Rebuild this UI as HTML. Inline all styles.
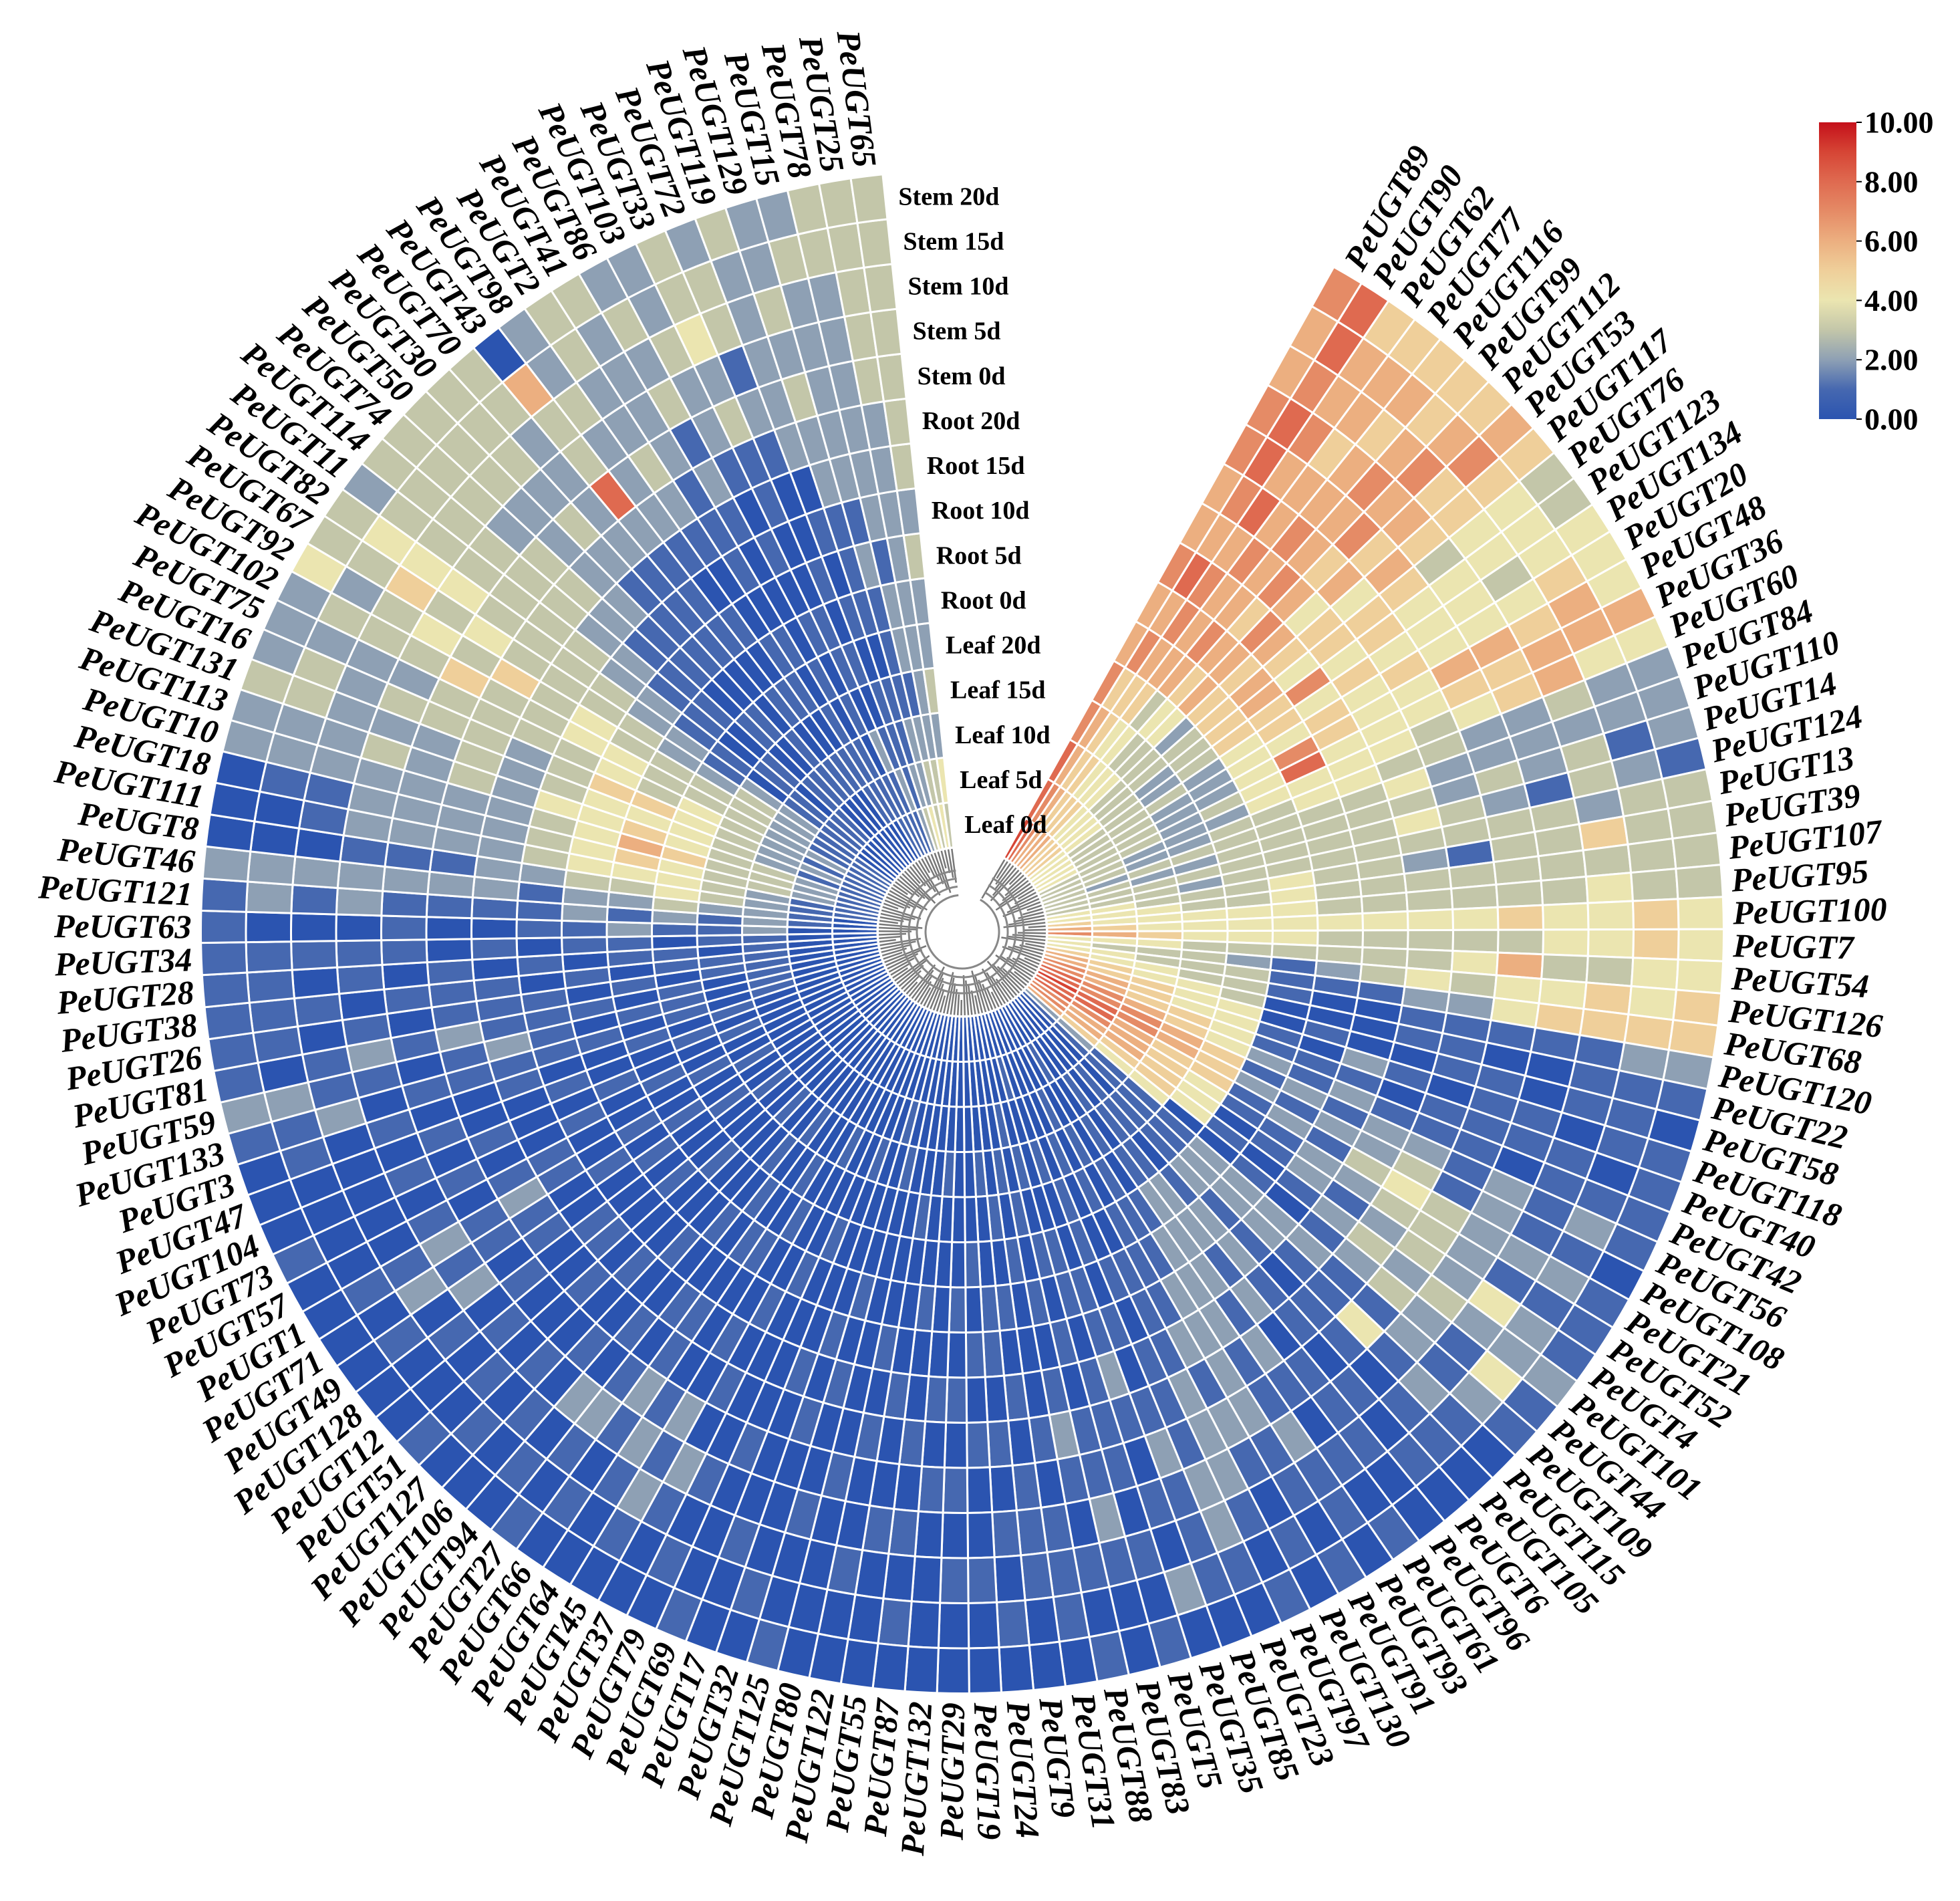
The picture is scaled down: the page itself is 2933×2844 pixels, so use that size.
<!DOCTYPE html>
<html><head><meta charset="utf-8"><style>
html,body{margin:0;padding:0;background:#fff;}
svg text{font-family:"Liberation Serif",serif;font-weight:bold;}
</style></head><body>
<svg id="chart" width="2933" height="2839" viewBox="0 0 2933 2839" xmlns="http://www.w3.org/2000/svg">
<defs><linearGradient id="lg" x1="0" y1="1" x2="0" y2="0">
<stop offset="0" stop-color="#2b54b0"/><stop offset="0.1" stop-color="#4668b0"/><stop offset="0.2" stop-color="#8ea0b4"/><stop offset="0.3" stop-color="#c3c6a9"/><stop offset="0.4" stop-color="#ebe5b0"/><stop offset="0.5" stop-color="#efcf9a"/><stop offset="0.6" stop-color="#ecaf80"/><stop offset="0.7" stop-color="#e58b66"/><stop offset="0.8" stop-color="#df6a50"/><stop offset="0.9" stop-color="#d64535"/><stop offset="1" stop-color="#c4101a"/>
</linearGradient></defs>
<g id="tree"></g>
<g id="cells"></g>
<g id="genelabels"></g>
<g id="ringlabels"></g>
<g>
<rect x="2722" y="183" width="56" height="444" fill="url(#lg)"/>
<g id="legendticks"></g>
</g>
</svg>
<script>
const genes=[89,90,62,77,116,99,112,53,117,76,123,134,20,48,36,60,84,110,14,124,13,39,107,95,100,7,54,126,68,120,22,58,118,40,42,56,108,21,52,4,101,44,109,115,105,6,96,61,93,91,130,97,23,85,35,5,83,88,31,9,24,19,29,132,87,55,122,80,125,32,17,69,79,37,45,64,66,27,94,106,127,51,12,128,49,71,1,57,73,104,47,3,133,59,81,26,38,28,34,63,121,46,8,111,18,10,113,131,16,75,102,92,67,82,11,114,74,50,30,70,43,98,2,41,86,103,33,72,119,129,15,78,25,65];
const samples=["Leaf 0d","Leaf 5d","Leaf 10d","Leaf 15d","Leaf 20d","Root 0d","Root 5d","Root 10d","Root 15d","Root 20d","Stem 0d","Stem 5d","Stem 10d","Stem 15d","Stem 20d"];
const values=["988776676677667","876657686788788","765556776867665","655456667665665","654436766766565","654345657667655","544346676576765","543325564656576","543335655465555","443235645553443",
"433235574544443","433324545444344","433224454544454","433224754466564","333234844455666","332224444345644","332233443322322","323333334222222","332233333232312","333333334321321",
"333233333333233","443334332133533","444334333333333","544444333333433","654444444454454","765444333334454","444333333463344","433321234344545","443331112245555","544331001111122",
"654430001100111","655440100110110","765441021011011","765541110111101","876542121110111","877651212212121","987652122312110","886551213432221","876541122332111","766540121232421",
"765541012323222","654400101232141","221112222112121","111112221141210","000112110110110","001101221101010","000112212011100","001012221210101","000101222112110","010011122221101",
"000101112121010","001010111222101","000100101112210","000011010121110","000100112101020","010001101110101","000101010112100","001010101210101","000101000101110","000010101011100",
"000100110101010","000001010100100","000000101010100","000100001010000","000000100101010","000010001001000","000000010100100","000100000010000","001000101001001","000000010100010",
"000100001000100","000001000010001","000000100001010","000100010102100","000001001021210","000010100012100","000000101121010","000101001012101","000010100102010","000000010010100",
"000100001001010","000001000100101","000000101001000","000100001010100","000010100102010","000001010111200","000100101212110","000010001101000","000001010010001","000100100101000",
"000010010010000","000101001001010","001010111110211","001011012101122","001010111212101","001101011101011","001110101110111","001011010101011","001101101011111","002112110010001",
"012121211112121","012232212222222","112343322111000","112344432222100","123345432222110","123356432222222","123345442323222","112344432322233","122345532333232","112343433332222",
"122333443353332","112333343534324","112322333343533","112212233334443","011011223333332","011101122333333","010101112332333","011010112222333","001010111232333","001100111222233",
"001010111283360","001010101222322","011011001232233","011101011122223","111010001213232","110101010122322","112011001132433","121010100121332","211101010222223","321101112232322",
"422111212222232","332122122222233","432222222233333","342322323333333"];
const legendTicks=["0.00","2.00","4.00","6.00","8.00","10.00"];

const NS="http://www.w3.org/2000/svg";
const cx=1440,cy=1394,R0=127,RW=67.5,A0=29.2,A1=354;
const step=(A1-A0)/genes.length;
const stops=[[43,84,176],[70,104,176],[142,160,180],[195,198,169],[235,229,176],[239,207,154],[236,175,128],[229,139,102],[223,106,80],[214,69,53],[196,16,26]];
function color(v){v=Math.max(0,Math.min(10,v));const i=Math.min(9,Math.floor(v)),t=v-i;const a=stops[i],b=stops[i+1];return "rgb("+a.map((c,k)=>Math.round(c+(b[k]-c)*t)).join(",")+")";}
function pt(r,a){const t=a*Math.PI/180;return [cx+r*Math.sin(t),cy-r*Math.cos(t)];}
function angOf(i){return A0+step*i;}
function rOf(j){return R0+RW*j;}
const cells=document.getElementById('cells');
genes.forEach((g,i)=>{
  const a0=angOf(i),a1=angOf(i+1);
  for(let j=0;j<samples.length;j++){
    const v=+values[i][j];
    const r0=rOf(j),r1=rOf(j+1);
    const p1=pt(r0,a0),p2=pt(r1,a0),p3=pt(r1,a1),p4=pt(r0,a1);
    const p=document.createElementNS(NS,'path');
    p.setAttribute('d',`M${p1[0]},${p1[1]}L${p2[0]},${p2[1]}A${r1},${r1} 0 0 1 ${p3[0]},${p3[1]}L${p4[0]},${p4[1]}A${r0},${r0} 0 0 0 ${p1[0]},${p1[1]}Z`);
    p.setAttribute('fill',color(v));
    p.setAttribute('stroke','#fff');
    p.setAttribute('stroke-width','3');
    
    
    cells.appendChild(p);
  }
});
// tree
const tree=document.getElementById('tree');
genes.forEach((g,i)=>{
  const a=angOf(i+0.5);
  const inner=58+((i*37)%45);
  const q1=pt(inner,a),q2=pt(R0-2,a);
  const l=document.createElementNS(NS,'line');
  l.setAttribute('x1',q1[0]);l.setAttribute('y1',q1[1]);l.setAttribute('x2',q2[0]);l.setAttribute('y2',q2[1]);
  l.setAttribute('stroke','#777');l.setAttribute('stroke-width','2.5');
  
  
  tree.appendChild(l);
});
[55,68,80,92].forEach(r=>{
  const s=pt(r,A0),e=pt(r,A1);
  const p=document.createElementNS(NS,'path');
  p.setAttribute('d',`M${s[0]},${s[1]}A${r},${r} 0 1 1 ${e[0]},${e[1]}`);
  p.setAttribute('fill','none');p.setAttribute('stroke','#888');p.setAttribute('stroke-width','3');
  
  
  tree.appendChild(p);
});
// gene labels
const gl=document.getElementById('genelabels');
genes.forEach((g,i)=>{
  const a=angOf(i+0.5);
  const p=pt(R0+RW*15+14,a);
  const t=document.createElementNS(NS,'text');
  t.textContent='PeUGT'+g;
  t.setAttribute('x',p[0]);t.setAttribute('y',p[1]);
  t.setAttribute('font-size','50');t.setAttribute('font-style','italic');
  t.setAttribute('dominant-baseline','central');
  if(a<180){t.setAttribute('text-anchor','start');t.setAttribute('transform',`rotate(${a-90} ${p[0]} ${p[1]})`);}
  else{t.setAttribute('text-anchor','end');t.setAttribute('transform',`rotate(${a+90} ${p[0]} ${p[1]})`);}
  
  
  gl.appendChild(t);
});
// ring labels
const rl=document.getElementById('ringlabels');
samples.forEach((s,j)=>{
  const p=pt(rOf(j+0.5),A1);
  const t=document.createElementNS(NS,'text');
  t.textContent=s;
  t.setAttribute('x',p[0]+20);t.setAttribute('y',p[1]);
  t.setAttribute('font-size','38');t.setAttribute('dominant-baseline','central');
  
  
  rl.appendChild(t);
});
// legend ticks
const lt=document.getElementById('legendticks');
legendTicks.forEach((s,k)=>{
  const y=627-k*(444/5);
  const t=document.createElementNS(NS,'text');
  t.textContent=s;
  t.setAttribute('x',2790);t.setAttribute('y',y);
  t.setAttribute('font-size','46');t.setAttribute('dominant-baseline','central');
  
  
  lt.appendChild(t);
  const l=document.createElementNS(NS,'line');
  l.setAttribute('x1',2778);l.setAttribute('x2',2786);l.setAttribute('y1',y);l.setAttribute('y2',y);
  l.setAttribute('stroke','#000');l.setAttribute('stroke-width','2');
  
  
  lt.appendChild(l);
});
</script>
</body></html>
